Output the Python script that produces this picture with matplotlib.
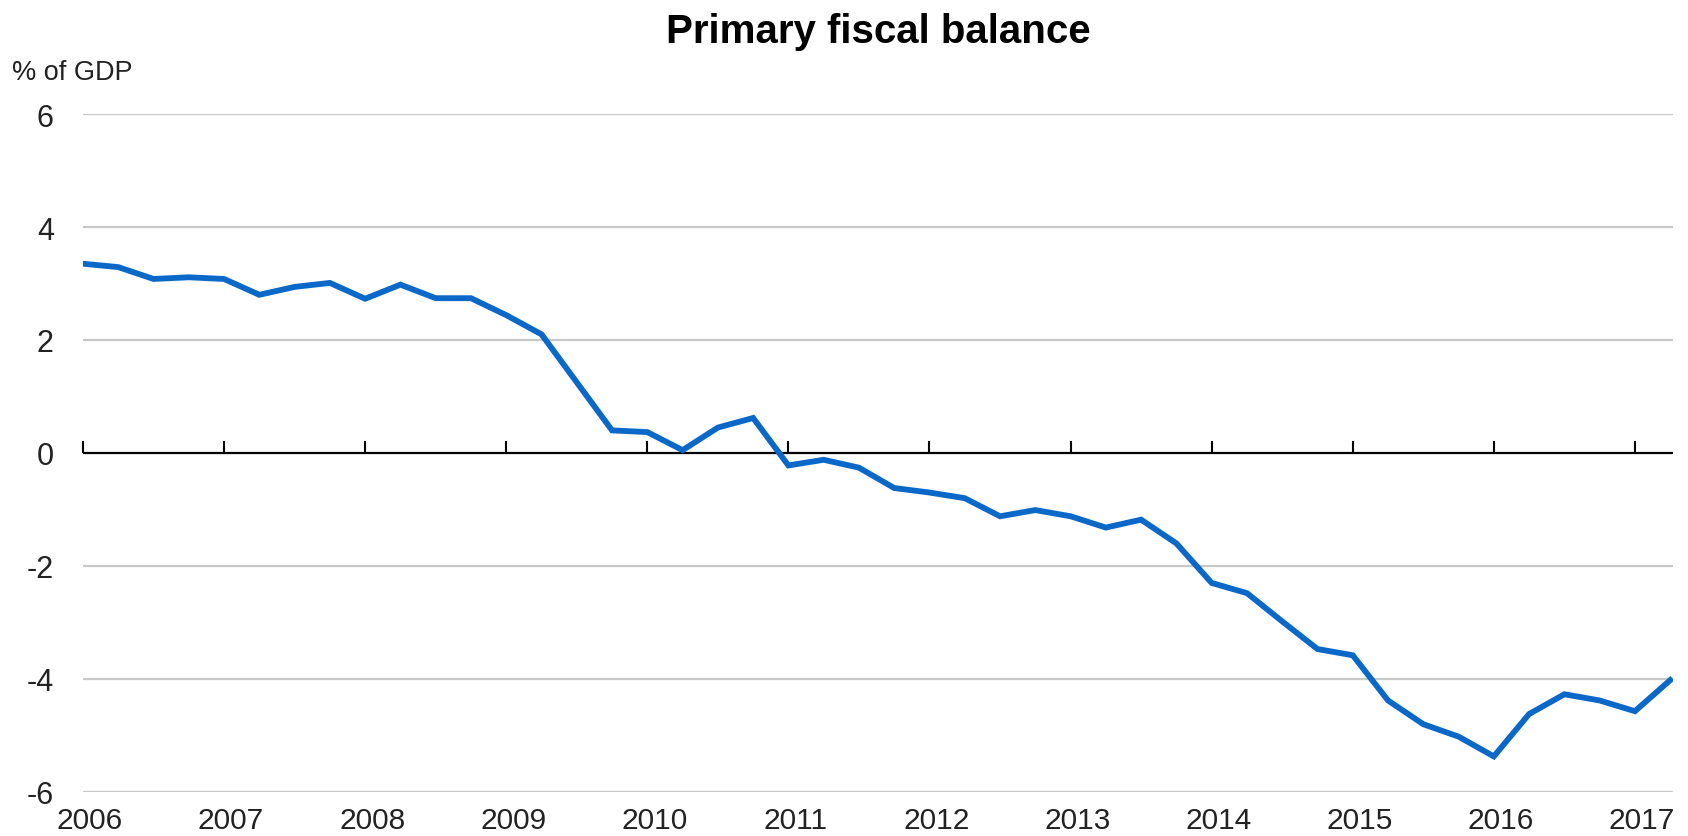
import numpy as np
import matplotlib
matplotlib.use("Agg")
import matplotlib.pyplot as plt
import matplotlib.transforms as mtransforms

plt.rcParams['font.family'] = ['Liberation Sans', 'DejaVu Sans']

# quarterly data, 2006Q1 - 2017Q2
balance = [
    3.35, 3.29, 3.08, 3.11,
    3.08, 2.80, 2.94, 3.01,
    2.73, 2.98, 2.74, 2.74,
    2.44, 2.10, 1.25, 0.40,
    0.37, 0.05, 0.45, 0.62,
    -0.22, -0.12, -0.26, -0.62,
    -0.70, -0.80, -1.12, -1.01,
    -1.12, -1.32, -1.18, -1.60,
    -2.30, -2.48, -2.98, -3.47,
    -3.58, -4.38, -4.80, -5.02,
    -5.37, -4.62, -4.27, -4.38,
    -4.57, -4.02,
]
start_year = 2006
years = list(range(2006, 2018))
yticks = [-6, -4, -2, 0, 2, 4, 6]

x = start_year + np.arange(len(balance)) / 4

fig = plt.figure(figsize=(16.88, 8.37), dpi=100)
ax = fig.add_axes([83 / 1688, 1 - 793 / 837, 1590 / 1688, 678 / 837])

for y in yticks:
    if y != 0:
        ax.axhline(y, color='#c8c8c8', lw=1.6, zorder=1)

ax.plot(x, balance, color='#0a68c8', lw=4.2, solid_joinstyle='miter', zorder=3)

ax.set_xlim(2006, 2017.27)
ax.set_ylim(-6, 6)
for s in ax.spines.values():
    s.set_visible(False)

ax.set_yticks(yticks)
ax.set_yticklabels([str(v) for v in yticks])
ax.tick_params(axis='y', length=0, pad=21, labelsize=22, colors='#222222')

ax.set_xticks(years)
ax.set_xticklabels([str(v) for v in years])
ax.tick_params(axis='x', length=0, pad=10, labelsize=21.5, colors='#222222')
shift = mtransforms.ScaledTranslation(7 / 100, 0, fig.dpi_scale_trans)
for lab in ax.get_xticklabels():
    lab.set_transform(lab.get_transform() + shift)

# zero line with year ticks pointing up
zero = ax.secondary_xaxis(0.5)
zero.spines['top'].set_visible(False)
zero.spines['bottom'].set_visible(False)
zero.set_xticks(years)
zero.set_xticklabels([])
zero.tick_params(axis='x', direction='out', length=9, width=1.5, color='black',
                 labeltop=False, labelbottom=False)
ax.axhline(0, color='black', lw=1.6, zorder=2)

fig.text(878 / 1688, 1 - 43 / 837, 'Primary fiscal balance', ha='center', va='baseline',
         fontsize=29, fontweight='bold', color='black')
fig.text(12 / 1688, 1 - 80 / 837, '% of GDP', ha='left', va='baseline',
         fontsize=19.5, color='#222222')

fig.savefig('out.png', dpi=100, facecolor='white')
